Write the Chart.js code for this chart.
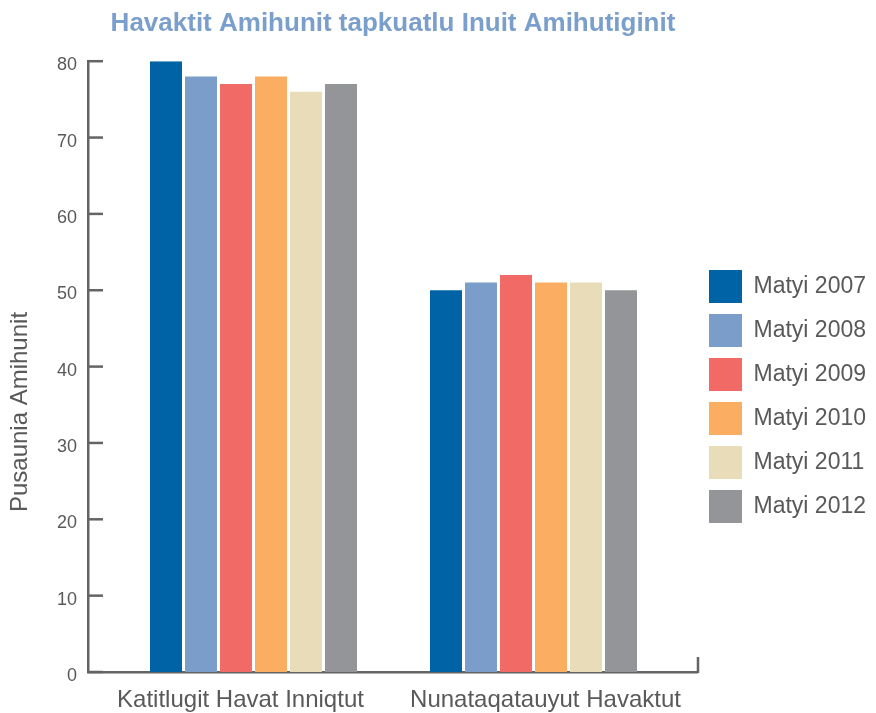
<!DOCTYPE html>
<html>
<head>
<meta charset="utf-8">
<script src="https://cdn.jsdelivr.net/npm/chart.js@4.4.1/dist/chart.umd.min.js"></script>
<style>
  body { margin: 0; background: #fff; }
  #wrap { width: 876px; height: 713px; position: relative; }
</style>
</head>
<body>
<div id="wrap"><canvas id="myChart"></canvas></div>
<script>
const categories = ["Katitlugit Havat Inniqtut", "Nunataqatauyut Havaktut"];
const seriesNames = ["Matyi 2007", "Matyi 2008", "Matyi 2009", "Matyi 2010", "Matyi 2011", "Matyi 2012"];
const values2007 = [80, 50];
const values2008 = [78, 51];
const values2009 = [77, 52];
const values2010 = [78, 51];
const values2011 = [76, 51];
const values2012 = [77, 50];
const seriesColors = ["#0063a6", "#7a9ec9", "#f26a65", "#fbae62", "#e9ddb9", "#939598"];

const titleText = "Havaktit Amihunit tapkuatlu Inuit Amihutiginit";
const yTitle = "Pusaunia Amihunit";
const FONT = "'Liberation Sans', Arial, sans-serif";
const TEXT = "#595959";
const AXIS = "#646464";

const allValues = [values2007, values2008, values2009, values2010, values2011, values2012];

// inward tick marks, the little end tick on the x axis, and the rotated y title
const axisExtras = {
  id: "axisExtras",
  afterDraw(chart) {
    const ctx = chart.ctx;
    const area = chart.chartArea;
    const y = chart.scales.y;
    ctx.save();
    ctx.strokeStyle = AXIS;
    ctx.lineWidth = 2.5;
    y.ticks.forEach(function (t) {
      const py = y.getPixelForValue(t.value);
      ctx.beginPath();
      ctx.moveTo(area.left, py);
      ctx.lineTo(area.left + 15, py);
      ctx.stroke();
    });
    ctx.beginPath();
    ctx.moveTo(area.right, area.bottom + 1);
    ctx.lineTo(area.right, area.bottom - 15);
    ctx.stroke();

    ctx.translate(20, 412);
    ctx.rotate(-Math.PI / 2);
    ctx.fillStyle = TEXT;
    ctx.font = "24px " + FONT;
    ctx.textAlign = "center";
    ctx.textBaseline = "middle";
    ctx.fillText(yTitle, 0, 0);
    ctx.restore();
  }
};

const ctx = document.getElementById("myChart");
new Chart(ctx, {
  type: "bar",
  data: {
    labels: categories,
    datasets: seriesNames.map(function (name, i) {
      return {
        label: name,
        data: allValues[i].map(function (v, j) { return { x: j, y: v }; }),
        backgroundColor: seriesColors[i],
        borderWidth: 0,
        xAxisID: "xb",
        categoryPercentage: 0.75,
        barPercentage: 0.914
      };
    })
  },
  options: {
    responsive: true,
    maintainAspectRatio: false,
    animation: false,
    layout: { padding: 0 },
    scales: {
      x: {
        type: "category",
        position: "bottom",
        grid: { display: false, drawTicks: false },
        border: { display: true, color: AXIS, width: 2.5 },
        ticks: { color: TEXT, font: { family: FONT, size: 24 }, padding: 14, maxRotation: 0 },
        afterFit: function (s) { s.height = 41; }
      },
      // hidden axis that places the bar groups (groups sit inward of the label centres)
      xb: {
        type: "linear",
        display: false,
        offset: false,
        min: -0.59107,
        max: 1.5875,
        grid: { display: false },
        afterBuildTicks: function (s) {
          s.ticks = categories.map(function (c, i) { return { value: i }; });
        }
      },
      y: {
        min: 0,
        max: 80,
        grid: { display: false, drawTicks: false },
        border: { display: true, color: AXIS, width: 2.5 },
        ticks: { stepSize: 10, color: TEXT, font: { family: FONT, size: 18 }, padding: 11, labelOffset: 4 },
        afterFit: function (s) { s.width = 88; }
      }
    },
    plugins: {
      title: {
        display: true,
        text: titleText,
        color: "#7b9fcc",
        fullSize: false,
        font: { family: FONT, size: 26, weight: "bold" },
        padding: { top: 8, bottom: 22 }
      },
      legend: {
        position: "right",
        align: "center",
        title: { display: true, text: "", font: { size: 10 }, padding: { top: 68, bottom: 0 } },
        labels: {
          boxWidth: 33,
          boxHeight: 33,
          padding: 11,
          color: TEXT,
          font: { family: FONT, size: 23 }
        }
      },
      tooltip: { enabled: false }
    }
  },
  plugins: [axisExtras]
});
</script>
</body>
</html>
